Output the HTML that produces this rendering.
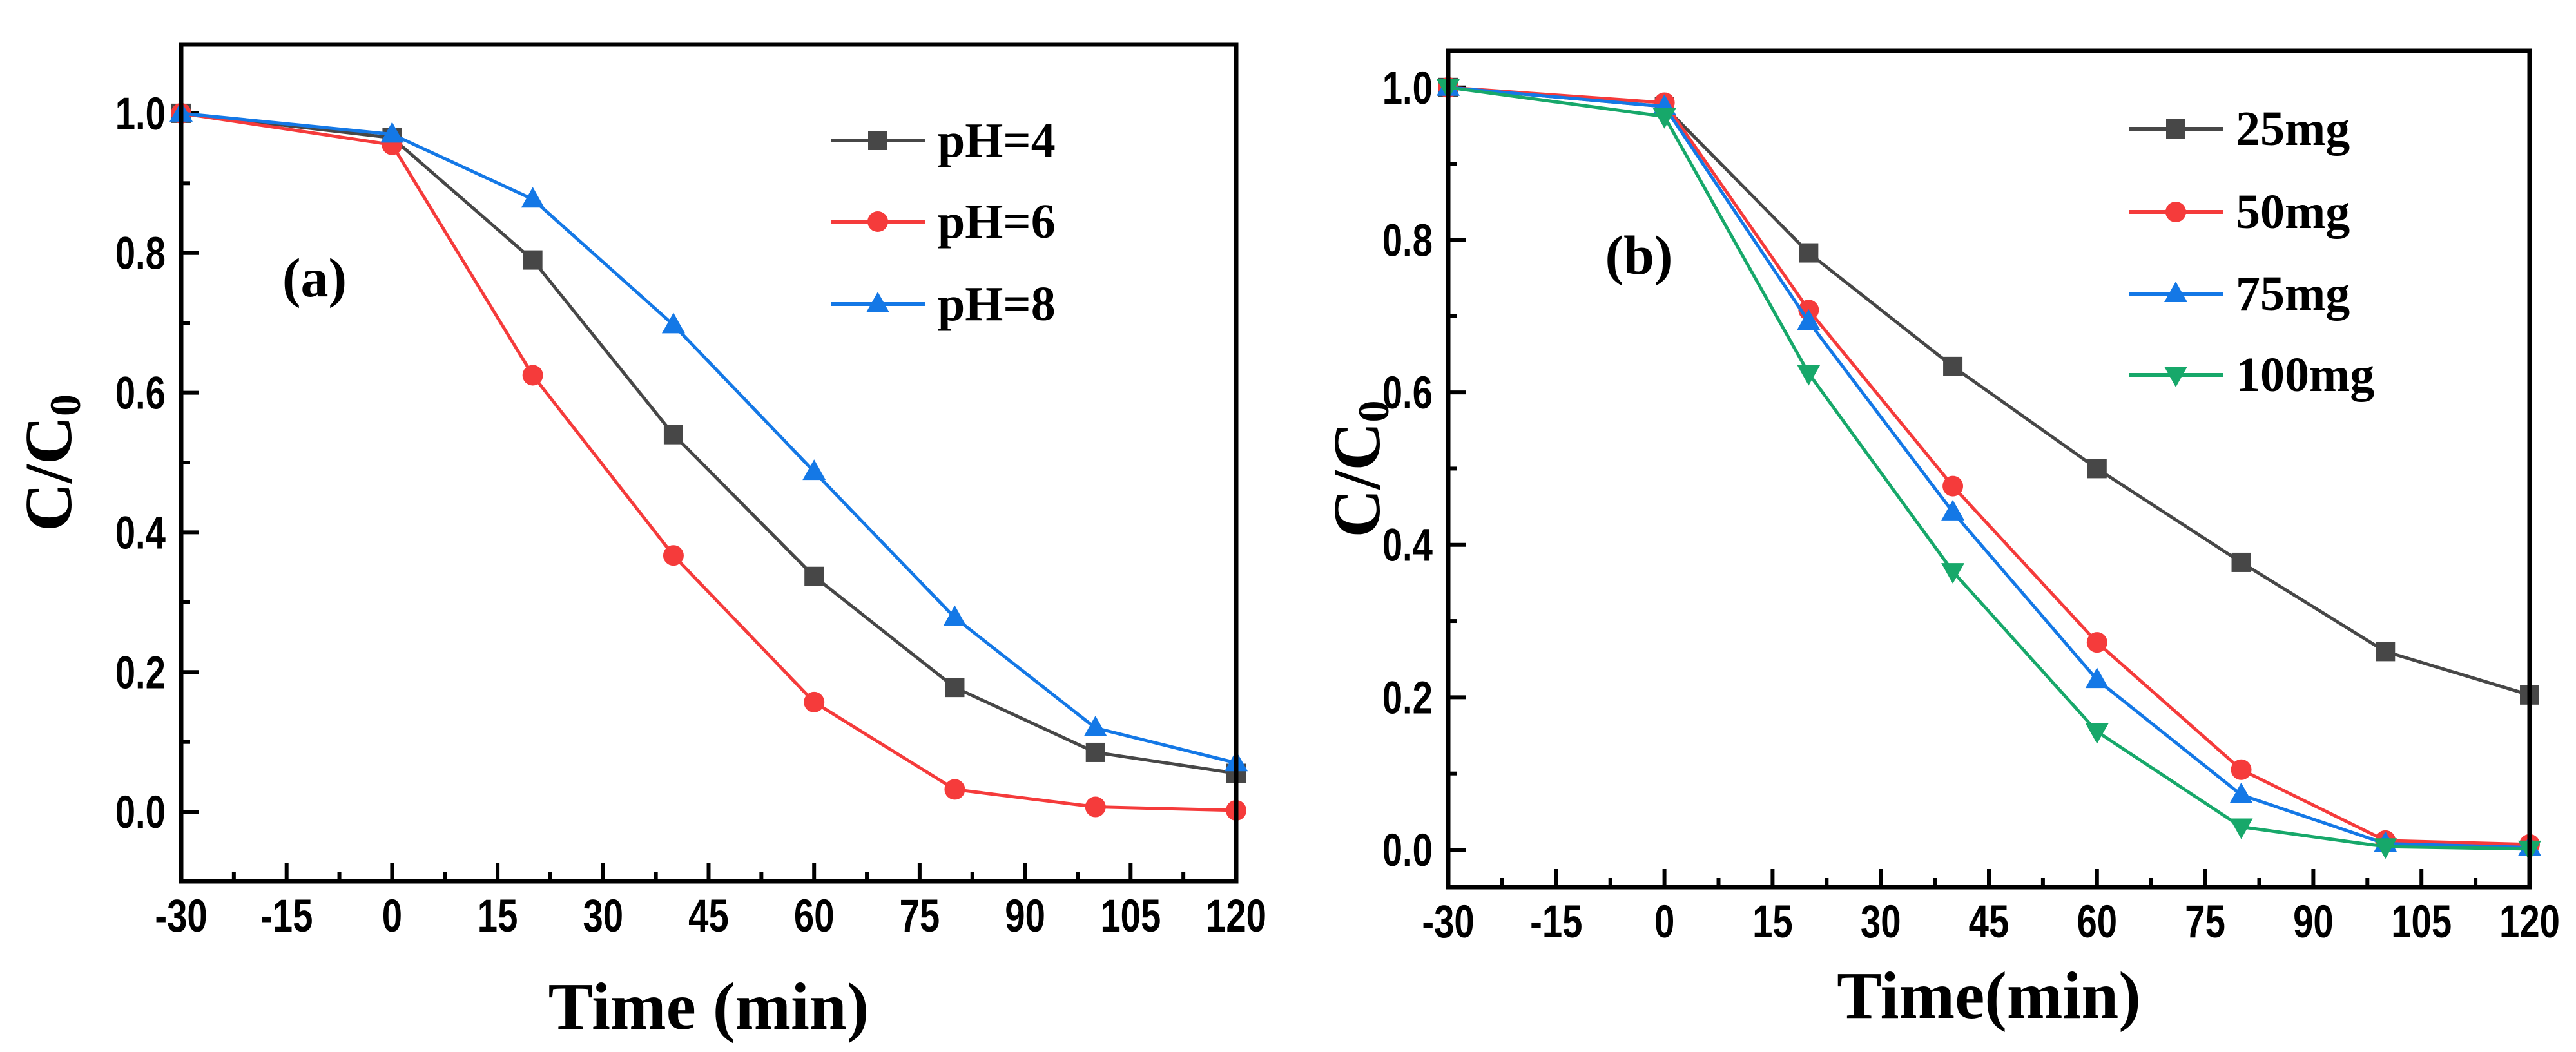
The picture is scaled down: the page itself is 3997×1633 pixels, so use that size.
<!DOCTYPE html>
<html><head><meta charset="utf-8"><style>
html,body{margin:0;padding:0;background:#fff;}
svg{display:block;}
text{font-family:"Liberation Serif",serif;font-weight:bold;}
.tick{font-family:"Liberation Sans",sans-serif;font-weight:bold;font-size:64px;}
</style></head><body>
<svg id="fig" width="3997" height="1633" viewBox="0 0 3997 1633" xmlns="http://www.w3.org/2000/svg"></svg>
<script>
const timesA = [-30, 0, 20, 40, 60, 80, 100, 120];
const pH4 = [1.0, 0.965, 0.79, 0.54, 0.337, 0.178, 0.085, 0.055];
const pH6 = [1.0, 0.955, 0.625, 0.367, 0.157, 0.032, 0.007, 0.002];
const pH8 = [1.0, 0.97, 0.877, 0.697, 0.487, 0.278, 0.12, 0.07];
const timesB = [-30, 0, 20, 40, 60, 80, 100, 120];
const mg25 = [1.0, 0.975, 0.783, 0.634, 0.5, 0.377, 0.26, 0.203];
const mg50 = [1.0, 0.98, 0.708, 0.477, 0.272, 0.105, 0.012, 0.007];
const mg75 = [1.0, 0.975, 0.693, 0.443, 0.223, 0.072, 0.008, 0.003];
const mg100 = [1.0, 0.962, 0.625, 0.365, 0.155, 0.03, 0.004, 0.001];
const xTicks = [-30, -15, 0, 15, 30, 45, 60, 75, 90, 105, 120];
const yTicks = [0.0, 0.2, 0.4, 0.6, 0.8, 1.0];

const NS = "http://www.w3.org/2000/svg";
const svg = document.getElementById('fig');
function mk(tag, attrs, parent) {
  const e = document.createElementNS(NS, tag);
  for (const k in attrs) e.setAttribute(k, attrs[k]);
  (parent || svg).appendChild(e);
  return e;
}
function marker(g, shape, x, y, color) {
  let m;
  const s = 15;
  if (shape === 'square') m = mk('rect', {x: x - s, y: y - s, width: 2 * s, height: 2 * s, fill: color}, g);
  else if (shape === 'circle') m = mk('circle', {cx: x, cy: y, r: s + 1, fill: color}, g);
  else if (shape === 'up') m = mk('polygon', {points: `${x},${y - s - 4} ${x - s - 3},${y + s - 2} ${x + s + 3},${y + s - 2}`, fill: color}, g);
  else m = mk('polygon', {points: `${x},${y + s + 4} ${x - s - 3},${y - s + 2} ${x + s + 3},${y - s + 2}`, fill: color}, g);
  
  
  return m;
}

function panel(cfg) {
  const {L, R, T, B, ymin, ymax, name} = cfg;
  const g = mk('g', {});
  
  
  const sx = v => L + (v + 30) / 150 * (R - L);
  const sy = v => B - (v - ymin) / (ymax - ymin) * (B - T);
  for (let v = -30; v <= 120; v += 7.5) {
    const major = Math.abs((v + 30) % 15) < 1e-6;
    const t = mk('line', {x1: sx(v), x2: sx(v), y1: B, y2: B - (major ? 28 : 14), stroke: '#000', 'stroke-width': 6}, g);
    
    
  }
  xTicks.forEach(v => {
    const t = mk('text', {x: 0, y: 0, 'text-anchor': 'middle', class: 'tick', transform: `translate(${sx(v)},${B + 78}) scale(0.88,1.12)`}, g);
    t.textContent = v;
    
    
  });
  for (let v = 0; v <= 1.0001; v += 0.1) {
    const major = Math.round(v * 10) % 2 === 0;
    const t = mk('line', {x1: L, x2: L + (major ? 28 : 14), y1: sy(v), y2: sy(v), stroke: '#000', 'stroke-width': 6}, g);
    
    
  }
  yTicks.forEach(v => {
    const t = mk('text', {x: 0, y: 0, 'text-anchor': 'end', class: 'tick', transform: `translate(${L - 24},${sy(v) + 25}) scale(0.88,1.12)`}, g);
    t.textContent = v.toFixed(1);
    
    
  });
  cfg.series.forEach(s => {
    const sg = mk('g', {}, g);
    
    
    const pts = s.x.map((t, i) => `${sx(t)},${sy(s.y[i])}`).join(' ');
    const pl = mk('polyline', {points: pts, fill: 'none', stroke: s.color, 'stroke-width': 5, 'stroke-linejoin': 'round'}, sg);
    
    
    s.x.forEach((t, i) => marker(sg, s.shape, sx(t), sy(s.y[i]), s.color));
  });
  const fr = mk('rect', {x: L, y: T, width: R - L, height: B - T, fill: 'none', stroke: '#000', 'stroke-width': 7}, g);
  
  
  const lg = mk('g', {}, g);
  
  
  cfg.series.forEach((s, i) => {
    const y = cfg.legY[i];
    const e = mk('g', {}, lg);
    
    
    mk('line', {x1: cfg.legX, x2: cfg.legX + 145, y1: y, y2: y, stroke: s.color, 'stroke-width': 6}, e);
    marker(e, s.shape, cfg.legX + 72, y, s.color);
    const t = mk('text', {x: cfg.legX + 165, y: y + 25, 'font-size': 76}, e);
    t.textContent = s.label;
  });
  const pl = mk('text', {x: cfg.tagX, y: cfg.tagY, 'font-size': 86, 'text-anchor': 'middle'}, g);
  pl.textContent = cfg.tag;
  
  
  const xt = mk('text', {x: (L + R) / 2, y: cfg.xtY, 'font-size': 104, 'text-anchor': 'middle'}, g);
  xt.textContent = cfg.xTitle;
  
  
  const yt = mk('text', {x: 0, y: 0, 'font-size': 104, 'text-anchor': 'middle', transform: `translate(${cfg.ytX},${(T + B) / 2}) rotate(-90)`}, g);
  yt.innerHTML = 'C/C<tspan font-size="68" dy="14">0</tspan>';
  
  
}

panel({name: 'panel-a', L: 281, R: 1918, T: 69, B: 1368, ymin: -0.0995, ymax: 1.0986,
  series: [
    {label: 'pH=4', x: timesA, y: pH4, color: '#474747', shape: 'square'},
    {label: 'pH=6', x: timesA, y: pH6, color: '#f53b3b', shape: 'circle'},
    {label: 'pH=8', x: timesA, y: pH8, color: '#1478e6', shape: 'up'}],
  legX: 1290, legY: [218, 344, 472], tag: '(a)', tagX: 488, tagY: 460,
  xTitle: 'Time (min)', xtY: 1597, ytX: 110});

panel({name: 'panel-b', L: 2247, R: 3925, T: 79, B: 1377, ymin: -0.049, ymax: 1.048,
  series: [
    {label: '25mg', x: timesB, y: mg25, color: '#474747', shape: 'square'},
    {label: '50mg', x: timesB, y: mg50, color: '#f53b3b', shape: 'circle'},
    {label: '75mg', x: timesB, y: mg75, color: '#1478e6', shape: 'up'},
    {label: '100mg', x: timesB, y: mg100, color: '#17a86a', shape: 'down'}],
  legX: 3304, legY: [200, 329, 456, 582], tag: '(b)', tagX: 2543, tagY: 425,
  xTitle: 'Time(min)', xtY: 1580, ytX: 2140});
</script>
</body></html>
